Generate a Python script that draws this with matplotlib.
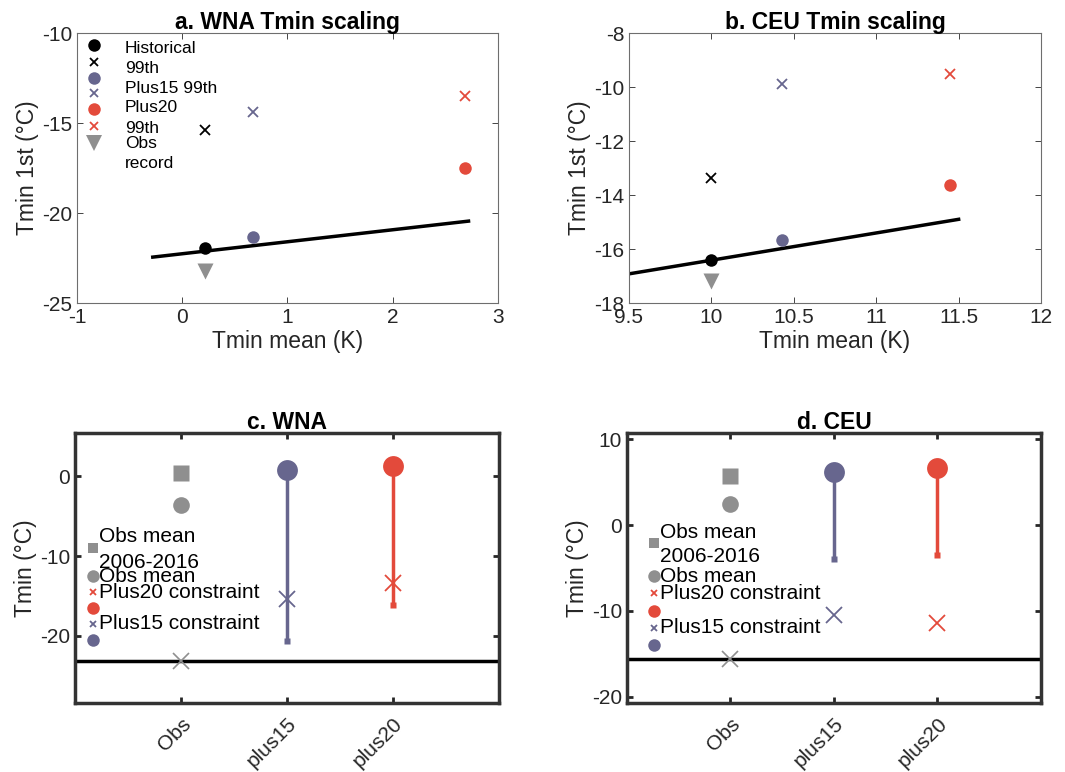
import matplotlib
matplotlib.use('Agg')
import matplotlib.pyplot as plt
from matplotlib.ticker import FuncFormatter

plt.rcParams['font.family'] = ['Liberation Sans', 'DejaVu Sans']
plt.rcParams['axes.unicode_minus'] = False

# colours
c_hist = 'black'
c_p15 = '#67668e'
c_p20 = '#e34a3b'
c_obs = '#8f8f8f'

# panel a/b data: [historical, plus15, plus20]
wna_mean = [0.22, 0.67, 2.69]
wna_1st = [-21.95, -21.35, -17.5]
wna_99th = [-15.4, -14.4, -13.5]
wna_obs_record = -23.2
wna_line_x = [-0.28, 2.72]
wna_line_y = [-22.45, -20.45]

ceu_mean = [10.0, 10.43, 11.45]
ceu_1st = [-16.39, -15.65, -13.64]
ceu_99th = [-13.37, -9.9, -9.51]
ceu_obs_record = -17.2
ceu_line_x = [9.5, 11.5]
ceu_line_y = [-16.92, -14.9]

# panel c/d data
cats = ['Obs', 'plus15', 'plus20']
wna_obs_mean_recent = 0.35
wna_obs_mean = -3.6
wna_obs_min = -23.2
wna_top = [0.8, 1.3]
wna_bottom = [-20.6, -16.1]
wna_constraint = [-15.4, -13.4]

ceu_obs_mean_recent = 5.7
ceu_obs_mean = 2.4
ceu_obs_min = -15.55
ceu_top = [6.2, 6.6]
ceu_bottom = [-3.9, -3.5]
ceu_constraint = [-10.5, -11.4]

fig = plt.figure(figsize=(10.65, 7.72), dpi=100)
gfmt = FuncFormatter(lambda v, p: '%g' % v)


def scaling_panel(rect, title, xm, y1, y99, rec, lx, ly, xlim, ylim, xticks, yticks, legend):
    ax = fig.add_axes(rect)
    ax.plot(lx, ly, color='black', lw=2.5, zorder=1)
    cols = [c_hist, c_p15, c_p20]
    for i in range(3):
        ax.plot(xm[i], y1[i], 'o', color=cols[i], ms=9, mec='none', zorder=3)
        ax.plot(xm[i], y99[i], 'x', color=cols[i], ms=7, mew=1.3, zorder=3)
    ax.plot(xm[0], rec, 'v', color=c_obs, ms=11, mec='none', zorder=2)
    ax.set_xlim(xlim)
    ax.set_ylim(ylim)
    ax.set_xticks(xticks)
    ax.set_yticks(yticks)
    ax.xaxis.set_major_formatter(gfmt)
    ax.yaxis.set_major_formatter(gfmt)
    ax.set_title(title, fontsize=16.5, fontweight='bold', pad=3)
    ax.set_xlabel('Tmin mean (K)', fontsize=16.5, color='#262626', labelpad=2)
    ax.set_ylabel('Tmin 1st (°C)', fontsize=16.5, color='#262626', labelpad=2)
    ax.tick_params(direction='in', top=True, right=True, labelsize=15,
                   colors='#262626', length=4, width=0.6)
    for s in ax.spines.values():
        s.set_color('#6e6e6e')
        s.set_linewidth(0.8)
    if legend:
        mk = [('o', c_hist, 9), ('x', c_hist, 6), ('o', c_p15, 9), ('x', c_p15, 6),
              ('o', c_p20, 9), ('x', c_p20, 6), ('v', c_obs, 11)]
        my = [0.956, 0.893, 0.833, 0.778, 0.719, 0.656, 0.593]
        for (m, c, s), yy in zip(mk, my):
            ax.plot(0.04, yy, m, color=c, ms=s, mew=1.3,
                    mec='none' if m != 'x' else c, transform=ax.transAxes)
        labels = ['Historical', '99th', 'Plus15 99th', 'Plus20', '99th', 'Obs', 'record']
        ty = [0.941, 0.867, 0.793, 0.726, 0.648, 0.589, 0.515]
        for t, yy in zip(labels, ty):
            ax.text(0.114, yy, t, fontsize=12.5, va='center', transform=ax.transAxes)
    return ax


scaling_panel([0.0723, 0.6075, 0.3953, 0.3497], 'a. WNA Tmin scaling',
              wna_mean, wna_1st, wna_99th, wna_obs_record, wna_line_x, wna_line_y,
              (-1, 3), (-25, -10), [-1, 0, 1, 2, 3], [-25, -20, -15, -10], True)
scaling_panel([0.5906, 0.6075, 0.3869, 0.3497], 'b. CEU Tmin scaling',
              ceu_mean, ceu_1st, ceu_99th, ceu_obs_record, ceu_line_x, ceu_line_y,
              (9.5, 12), (-18, -8), [9.5, 10, 10.5, 11, 11.5, 12],
              [-18, -16, -14, -12, -10, -8], False)


def constraint_panel(rect, title, recent, omean, omin, top, bottom, cons, ylim, yticks,
                     leg_x, txt_x, leg_my, leg_ty):
    ax = fig.add_axes(rect)
    ax.axhline(omin, color='black', lw=2.5, zorder=1)
    ax.plot(1, recent, 's', color=c_obs, ms=11, mec='none')
    ax.plot(1, omean, 'o', color=c_obs, ms=12, mec='none')
    ax.plot(1, omin, 'x', color=c_obs, ms=11, mew=1.2)
    for i, c in enumerate([c_p15, c_p20]):
        xpos = i + 2
        ax.plot([xpos, xpos], [bottom[i], top[i]], color=c, lw=2.5, zorder=2)
        ax.plot(xpos, bottom[i], 's', color=c, ms=4, mec='none', zorder=2)
        ax.plot(xpos, top[i], 'o', color=c, ms=15, mec='none', zorder=3)
        ax.plot(xpos, cons[i], 'x', color=c, ms=11, mew=1.3, zorder=3)
    ax.set_xlim(0, 4)
    ax.set_ylim(ylim)
    ax.set_yticks(yticks)
    ax.set_xticks([1, 2, 3])
    ax.set_xticklabels(cats, rotation=45, ha='right', rotation_mode='anchor')
    ax.set_title(title, fontsize=16.5, fontweight='bold', pad=3)
    ax.set_ylabel('Tmin (°C)', fontsize=16.5, color='#262626', labelpad=2)
    ax.tick_params(direction='in', top=True, right=True, labelsize=15,
                   colors='#262626', length=4, width=2)
    ax.tick_params(axis='x', pad=8)
    for s in ax.spines.values():
        s.set_color('#333333')
        s.set_linewidth(2.5)
    mk = [('s', c_obs, 7), ('o', c_obs, 9), ('x', c_p20, 5), ('o', c_p20, 9),
          ('x', c_p15, 5), ('o', c_p15, 9)]
    for (m, c, s), yy in zip(mk, leg_my):
        ax.plot(leg_x, yy, m, color=c, ms=s, mew=1.3,
                mec='none' if m != 'x' else c, transform=ax.transAxes)
    labels = ['Obs mean', '2006-2016', 'Obs mean', 'Plus20 constraint', 'Plus15 constraint']
    for t, yy in zip(labels, leg_ty):
        ax.text(txt_x, yy, t, fontsize=15, va='center', transform=ax.transAxes)
    return ax


constraint_panel([0.0704, 0.0894, 0.398, 0.3497], 'c. WNA',
                 wna_obs_mean_recent, wna_obs_mean, wna_obs_min, wna_top, wna_bottom,
                 wna_constraint, (-28.4, 5.4), [-20, -10, 0],
                 0.042, 0.057, [0.574, 0.470, 0.411, 0.352, 0.293, 0.233],
                 [0.615, 0.522, 0.470, 0.411, 0.293])
constraint_panel([0.5887, 0.0894, 0.3887, 0.3497], 'd. CEU',
                 ceu_obs_mean_recent, ceu_obs_mean, ceu_obs_min, ceu_top, ceu_bottom,
                 ceu_constraint, (-20.7, 10.7), [-20, -10, 0, 10],
                 0.065, 0.080, [0.593, 0.470, 0.407, 0.341, 0.278, 0.215],
                 [0.633, 0.544, 0.467, 0.407, 0.278])

fig.savefig('out.png', dpi=100)
